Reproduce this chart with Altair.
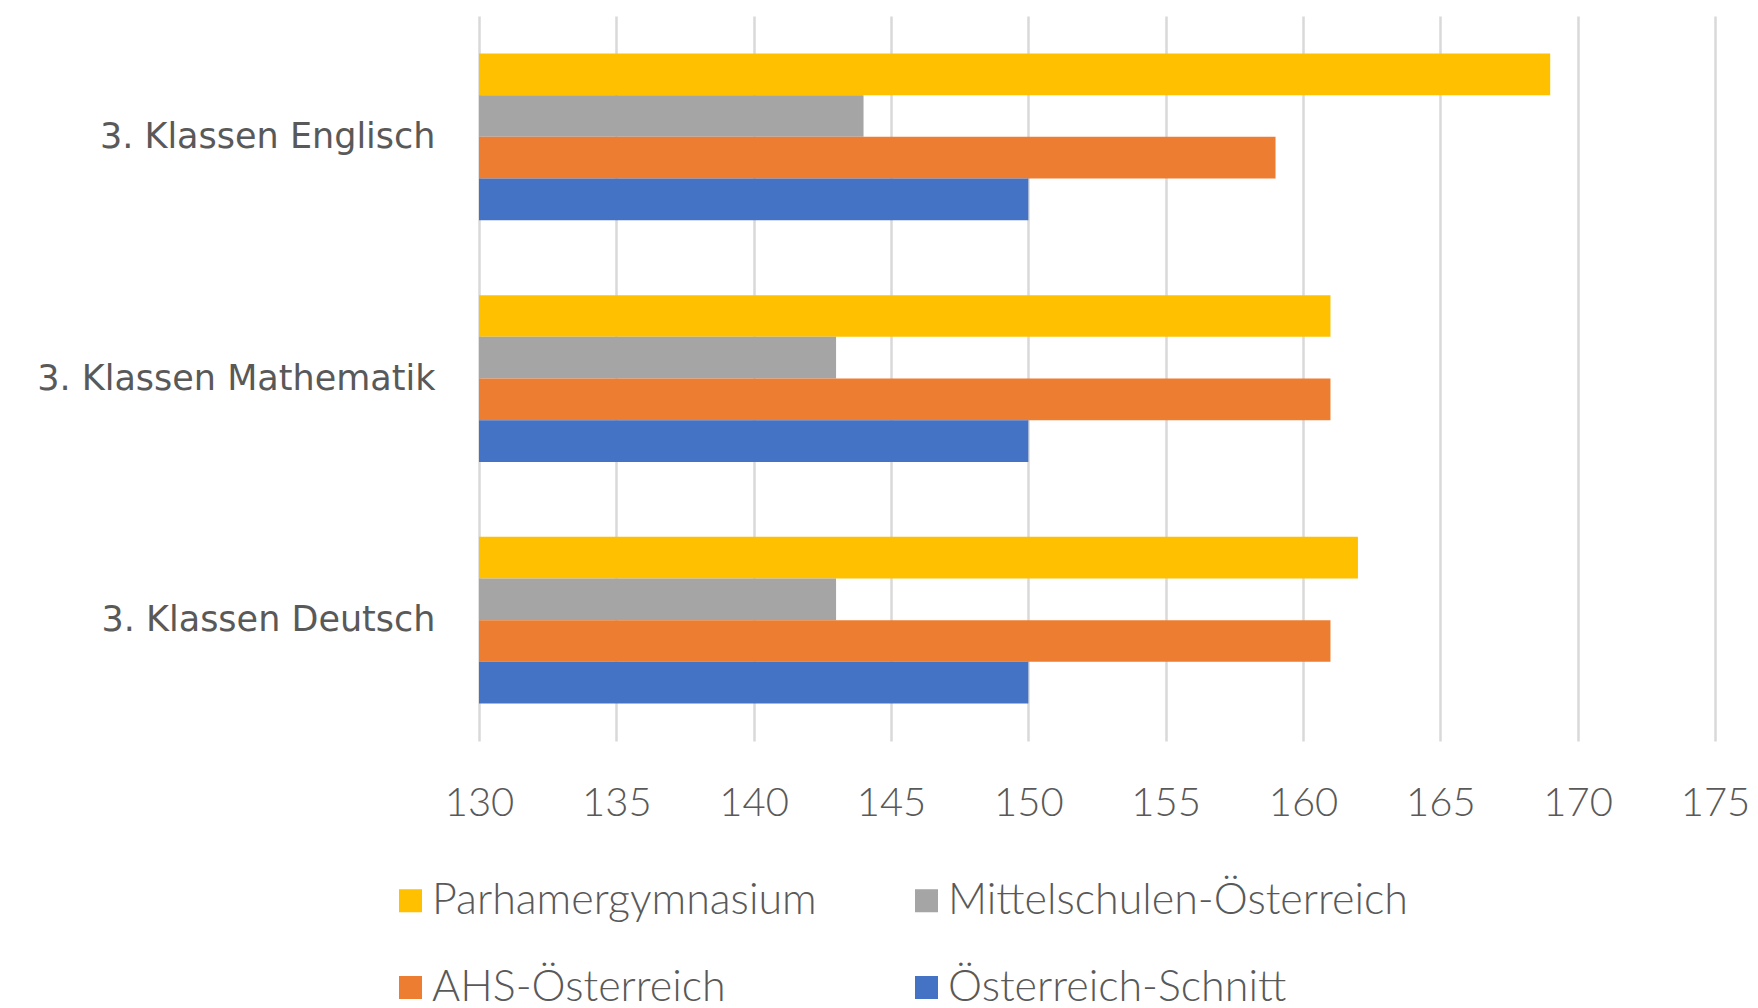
import altair as alt
import pandas as pd

categories = ["3. Klassen Englisch", "3. Klassen Mathematik", "3. Klassen Deutsch"]
series = ["Parhamergymnasium", "Mittelschulen-Österreich", "AHS-Österreich", "Österreich-Schnitt"]
parhamer = [169, 161, 162]
mittelschulen = [144, 143, 143]
ahs = [159, 161, 161]
oesterreich = [150, 150, 150]
colors = ["#FFC000", "#A5A5A5", "#ED7D31", "#4472C4"]
x_ticks = [130, 135, 140, 145, 150, 155, 160, 165, 170, 175]

rows = []
for s, vals in zip(series, [parhamer, mittelschulen, ahs, oesterreich]):
    for c, v in zip(categories, vals):
        rows.append({"Kategorie": c, "Serie": s, "Wert": v})
df = pd.DataFrame(rows)

TEXT = "#595959"
LABEL_FONT = "Lato"

chart = alt.Chart(df).mark_bar().encode(
    y=alt.Y(
        "Kategorie:N",
        sort=categories,
        scale=alt.Scale(paddingInner=0.31, paddingOuter=0.155),
        axis=alt.Axis(
            title=None, ticks=False, domain=False, grid=False,
            labelFont="DejaVu Sans", labelFontSize=35, labelColor=TEXT,
            labelPadding=44, labelLimit=600,
        ),
    ),
    yOffset=alt.YOffset("Serie:N", sort=series,
                        scale=alt.Scale(paddingInner=0, paddingOuter=0)),
    x=alt.X(
        "Wert:Q",
        scale=alt.Scale(domain=[130, 175], zero=False, nice=False),
        axis=alt.Axis(
            title=None, values=x_ticks, ticks=False, domain=False,
            grid=True, gridColor="#D9D9D9", gridWidth=2.5,
            labelFont=LABEL_FONT, labelFontWeight=300, labelFontSize=40,
            labelColor=TEXT, labelPadding=42, labelFlush=False,
            labelOverlap=False,
        ),
    ),
    x2=alt.datum(130),
    color=alt.Color(
        "Serie:N",
        sort=series,
        scale=alt.Scale(domain=series, range=colors),
        legend=alt.Legend(
            title=None, orient="none", legendX=-90, legendY=863,
            columns=2, direction="horizontal",
            symbolType="square", symbolSize=530, symbolStrokeWidth=0,
            labelFont=LABEL_FONT, labelFontWeight=300, labelFontSize=43,
            labelColor=TEXT, labelOffset=0, columnPadding=88,
            rowPadding=43, padding=0, labelLimit=800,
        ),
    ),
).properties(
    width=1236,
    height=725,
    autosize=alt.AutoSizeParams(type="none"),
    padding={"left": 471, "top": 8, "right": 35, "bottom": 280},
).configure_view(stroke=None)

chart.save("out.html", embed_options={"renderer": "svg", "actions": False})
